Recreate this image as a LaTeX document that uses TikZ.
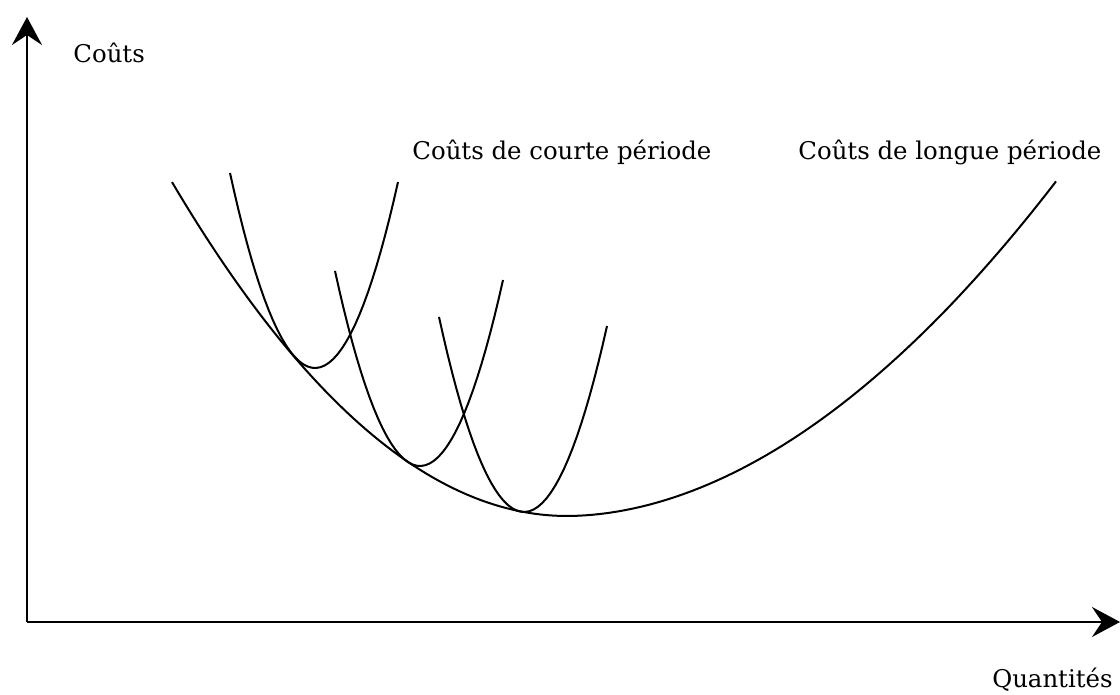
\documentclass[tikz,border=0pt]{standalone}
\usepackage{fontspec}
\setmainfont{DejaVu Serif}
\usepackage{tikz}
\usetikzlibrary{arrows.meta}

\begin{document}
\begin{tikzpicture}[x=0.5pt, y=0.5pt,
        axe/.style={line width=1pt, -{Stealth[length=14pt, width=15pt, inset=5pt]}},
        courbe/.style={line width=1pt},
        etiquette/.style={inner sep=0pt, font=\fontsize{12.2}{14}\selectfont}]
    \useasboundingbox (-27,-73) rectangle (1093,622);
    \coordinate (O)    at (   0,   0);
    \coordinate (ytip) at (   0, 605);
    \coordinate (xtip) at (1093,   0);
    \draw[axe] (O) -- (ytip);
    \draw[axe] (O) -- (xtip);
    \node[etiquette, anchor=base west] (couts)     at (  46, 559) {Coûts};
    \node[etiquette, anchor=base west] (courte)    at ( 385, 462) {Coûts de courte période};
    \node[etiquette, anchor=base west] (longue)    at ( 771, 462) {Coûts de longue période};
    \node[etiquette, anchor=base east] (quantites) at (1086, -66) {Quantités};
    % longue periode
    \draw[courbe] plot[domain=145:540, samples=60] (\x, {106+21.4*((\x-540)/100)^2})
               -- plot[domain=1:489,   samples=60] ({540+\x}, {106+16.4*(\x/100)^1.9});
    % courte periode
    \foreach \vx/\vy in {288/254, 393/156, 497/110}
        \draw[courbe] plot[domain=-85:83, samples=40] ({\vx+\x}, {\vy+0.027*\x*\x});
\end{tikzpicture}
\end{document}
